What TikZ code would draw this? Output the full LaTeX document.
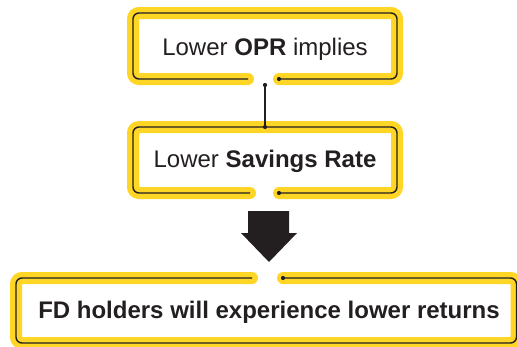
\documentclass[tikz,border=0pt]{standalone}
\usepackage{fontspec}
\setmainfont{Liberation Sans}
\definecolor{hl}{RGB}{255,214,38}
\definecolor{ink}{RGB}{35,31,32}
\begin{document}
\begin{tikzpicture}[x=1pt,y=-1pt,
  glow/.style={draw=hl,line width=12pt,line cap=round,rounded corners=6pt},
  rim/.style={draw=ink,line width=1.4pt,rounded corners=6pt},
  knot/.style={fill=ink,circle,inner sep=0pt,minimum size=4.2pt},
  label/.style={text=ink,font=\fontsize{24}{28}\selectfont,inner sep=0pt,anchor=base}]
\useasboundingbox (0,0) rectangle (517,346);
\clip (0,0) rectangle (517,346);
% Box 1
\coordinate (b1l) at (248,79);
\coordinate (b1r) at (279,79);
\path[glow] (b1l) -- (133,79) -- (133,13) -- (397,13) -- (397,79) -- (b1r);
\path[rim] (b1l) -- (133,79) -- (133,13) -- (397,13) -- (397,79) -- (b1r);
\node[knot] at (b1r) {};
\node[label] (t1) at (265,55) {Lower \textbf{OPR} implies};
% Box 2
\coordinate (b2l) at (250,193);
\coordinate (b2r) at (279,193);
\path[glow] (b2l) -- (133,193) -- (133,127) -- (397,127) -- (397,193) -- (b2r);
\path[rim] (b2l) -- (133,193) -- (133,127) -- (397,127) -- (397,193) -- (b2r);
\node[knot] at (b2r) {};
\node[label] (t2) at (265,167) {Lower \textbf{Savings Rate}};
% connector
\coordinate (c1) at (265,85);
\coordinate (c2) at (265,127);
\draw[ink,line width=1.4pt] (c1) -- (c2);
\node[knot] at (c1) {};
\node[knot] at (c2) {};
% block arrow
\fill[ink] (248,211) -- (289,211) -- (289,233) -- (297,233) -- (269,262) -- (241,233) -- (248,233) -- cycle;
% Box 3
\coordinate (b3l) at (252,278);
\coordinate (b3r) at (283,278);
\path[glow] (b3l) -- (16,278) -- (16,343) -- (516.5,343) -- (516.5,278) -- (b3r);
\path[rim] (b3l) -- (16,278) -- (16,343) -- (516.5,343) -- (516.5,278) -- (b3r);
\node[knot] at (b3r) {};
\node[label] (t3) at (269,318) {\textbf{FD holders will experience lower returns}};
\end{tikzpicture}
\end{document}
